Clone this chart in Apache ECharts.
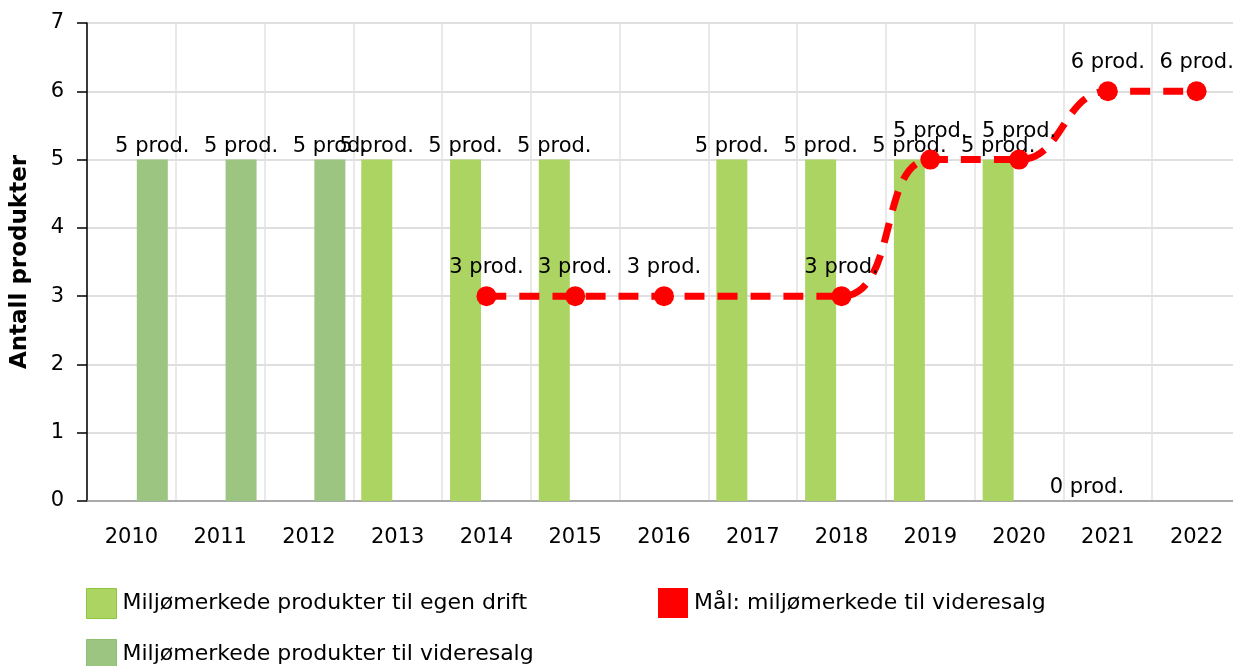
<!DOCTYPE html>
<html>
<head>
<meta charset="utf-8">
<title>Miljømerkede produkter</title>
<script src="https://cdn.jsdelivr.net/npm/echarts@6/dist/echarts.min.js"></script>
<style>
  html, body { margin: 0; padding: 0; background: #fff; }
  #chart { width: 1233px; height: 666px; }
</style>
</head>
<body>
<div id="chart"></div>
<script>
// * Categories (years)
const years = ["2010", "2011", "2012", "2013", "2014", "2015", "2016", "2017", "2018", "2019", "2020", "2021", "2022"];
// * Bars: products for own operations
const egenDrift = [null, null, null, 5, 5, 5, null, 5, 5, 5, 5, 0, null];
// * Bars: products for resale
const videresalg = [5, 5, 5, null, null, null, null, null, null, null, null, null, null];
// * Line: target for resale (2017 has no value)
const maal = [null, null, null, null, 3, 3, 3, null, 3, 5, 5, 6, 6];
// * Y axis range
const yMin = 0;
const yMax = 7;
const yStep = 1;

const seriesNames = [
  "Miljømerkede produkter til egen drift",
  "Miljømerkede produkter til videresalg",
  "Mål: miljømerkede til videresalg",
];

const fontFamily = "'DejaVu Sans', Verdana, sans-serif";
const textColor = "#000";
const lightGreen = "#acd462";
const darkGreen = "#9cc582";
const red = "#ff0000";

const myChart = echarts.init(document.getElementById("chart"));

const labelStyle = {
  show: true,
  position: "top",
  formatter: "{c} prod.",
  color: textColor,
  fontFamily: fontFamily,
  fontSize: 21,
};

// ? One legend per item so each sits where the reference has it
function legendItem(item, left, top) {
  return {
    orient: "horizontal",
    left: left,
    top: top,
    icon: "rect",
    itemWidth: 30,
    itemHeight: 30,
    textStyle: { fontSize: 22, color: textColor, fontFamily: fontFamily, padding: [0, 0, 0, 1] },
    data: [item],
  };
}

const option = {
  animation: false,
  textStyle: { fontFamily: fontFamily },
  grid: {
    left: 87,
    top: 23,
    width: 1154,
    bottom: 165,
    containLabel: false,
    // ! the plot runs a little past the right edge, as in the reference
    outerBoundsMode: "none",
  },
  legend: [
    legendItem({ name: seriesNames[0], itemStyle: { borderColor: "#8dc63f", borderWidth: 1 } }, 81, 583),
    legendItem({ name: seriesNames[1], itemStyle: { borderColor: "#8cbf72", borderWidth: 1 } }, 81, 634),
    legendItem(seriesNames[2], 653, 583),
  ],
  xAxis: {
    type: "category",
    data: years,
    boundaryGap: true,
    axisLine: { lineStyle: { color: "#999", width: 1.5 } },
    axisTick: { alignWithLabel: true, length: 9, lineStyle: { color: "#999", width: 1.5 } },
    axisLabel: { color: textColor, fontSize: 21, margin: 26, fontFamily: fontFamily },
    splitLine: { show: true, lineStyle: { color: "#e2e2e2", width: 1.5 } },
  },
  yAxis: {
    type: "value",
    min: yMin,
    max: yMax,
    interval: yStep,
    name: "Antall produkter",
    nameLocation: "middle",
    nameRotate: 90,
    nameGap: 55,
    nameTextStyle: { fontSize: 23, fontWeight: "bold", color: textColor, fontFamily: fontFamily },
    axisLine: { show: true, lineStyle: { color: "#000", width: 1.5 } },
    axisTick: { show: true, length: 10, lineStyle: { color: "#000", width: 1.5 } },
    axisLabel: { color: textColor, fontSize: 21, margin: 23, fontFamily: fontFamily },
    splitLine: { show: true, lineStyle: { color: "#d4d4d4", width: 1.5 } },
  },
  series: [
    {
      name: seriesNames[0],
      type: "bar",
      data: egenDrift,
      barWidth: 31,
      barGap: "35%",
      itemStyle: { color: lightGreen },
      label: Object.assign({}, labelStyle, { distance: 3 }),
    },
    {
      name: seriesNames[1],
      type: "bar",
      data: videresalg,
      barWidth: 31,
      barGap: "35%",
      itemStyle: { color: darkGreen },
      label: Object.assign({}, labelStyle, { distance: 3 }),
    },
    {
      name: seriesNames[2],
      type: "line",
      data: maal,
      smooth: 0.45,
      connectNulls: true,
      symbol: "circle",
      symbolSize: 20,
      itemStyle: { color: red },
      lineStyle: { color: red, width: 7, type: [20, 13], cap: "butt" },
      label: Object.assign({}, labelStyle, { distance: 8 }),
      z: 5,
    },
  ],
};

myChart.setOption(option);
</script>
</body>
</html>
